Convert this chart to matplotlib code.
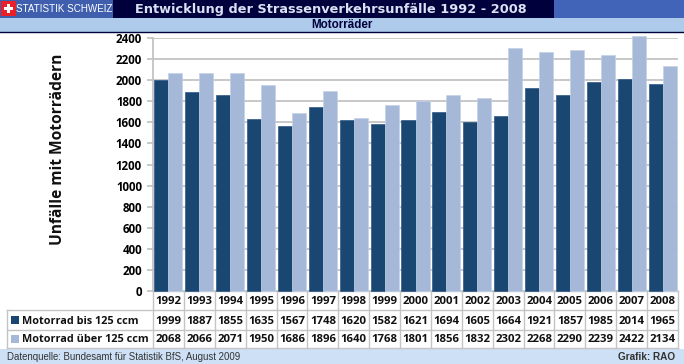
#!/usr/bin/env python3
"""Strassenverkehrsunfaelle 1992-2008: Motorraeder, bars with data table."""

import matplotlib
matplotlib.use('Agg')
import matplotlib.pyplot as plt
import numpy as np
from matplotlib.patches import Rectangle

years = [1992, 1993, 1994, 1995, 1996, 1997, 1998, 1999, 2000,
         2001, 2002, 2003, 2004, 2005, 2006, 2007, 2008]
bis_125 = [1999, 1887, 1855, 1635, 1567, 1748, 1620, 1582, 1621,
           1694, 1605, 1664, 1921, 1857, 1985, 2014, 1965]
ueber_125 = [2068, 2066, 2071, 1950, 1686, 1896, 1640, 1768, 1801,
             1856, 1832, 2302, 2268, 2290, 2239, 2422, 2134]
y_ticks = list(range(0, 2401, 200))

DARK = '#1a4672'
LIGHT = '#a5b8d8'
GRID = '#c4c4c4'
W, H = 684, 364
LEFT, RIGHT = 153, 678
TOP, BASE = 38, 291
BODY = 'Open Sans'

fig = plt.figure(figsize=(W / 100, H / 100), dpi=100)

# pixel-coordinate layer for header, footer and table
bg = fig.add_axes([0, 0, 1, 1])
bg.set_xlim(0, W)
bg.set_ylim(H, 0)
bg.axis('off')


def box(x, y, w, h, color, z=1):
    bg.add_patch(Rectangle((x, y), w, h, facecolor=color, edgecolor='none', zorder=z))


box(0, 0, 113, 18, '#3f5fae')
box(113, 0, 441, 18, '#00003c')
box(554, 0, 130, 18, '#4163b8')
box(0, 18, W, 14, '#aecbeb')
bg.plot([0, W], [32.3, 32.3], color='#00003c', lw=1, zorder=2)
box(0, 349, W, 15, '#cde0f5')

# swiss flag
box(1, 1, 15, 15, '#e8202a', 2)
box(4, 7, 9, 3, 'white', 3)
box(7, 4, 3, 9, 'white', 3)
bg.text(16.5, 9, 'STATISTIK SCHWEIZ', color='white', fontsize=7.1, family='Liberation Sans',
        va='center', ha='left')

bg.text(331, 9.5, 'Entwicklung der Strassenverkehrsunfälle 1992 - 2008', color='#d8e2f2',
        fontsize=9.25, family='DejaVu Sans', weight='bold', va='center', ha='center')
bg.text(342, 25.5, 'Motorräder', color='#00003c', fontsize=8.4, family='Liberation Sans',
        weight='bold', va='center', ha='center')
bg.text(7, 356.5, 'Datenquelle: Bundesamt für Statistik BfS, August 2009', color='#333333',
        fontsize=6.9, family='Liberation Sans', va='center', ha='left')
bg.text(675, 356.5, 'Grafik: RAO', color='#333333', fontsize=7.2, family='Liberation Sans',
        weight='bold', va='center', ha='right')

bg.text(58, 149, 'Unfälle mit Motorrädern', rotation=90, fontsize=11.2, family=BODY,
        weight='bold', va='center', ha='center', color='#111111')

# table
pitch = (RIGHT - LEFT) / len(years)
rows = [291, 310, 330, 348]
for y in rows:
    bg.plot([LEFT if y == rows[0] else 7, RIGHT], [y, y], color=GRID, lw=1, zorder=2)
for i in range(len(years) + 1):
    x = LEFT + i * pitch
    bg.plot([x, x], [rows[0], rows[-1]], color=GRID, lw=1, zorder=2)
bg.plot([7, 7], [rows[1], rows[-1]], color=GRID, lw=1, zorder=2)

for i, row in enumerate(zip(years, bis_125, ueber_125)):
    x = LEFT + (i + 0.5) * pitch
    for val, yc in zip(row, [301.5, 321, 340]):
        bg.text(x, yc, str(val), fontsize=8.2, family=BODY, weight='bold',
                va='center', ha='center', color='#111111')

box(11, 316, 8, 8, DARK, 3)
box(11, 335, 8, 8, LIGHT, 3)
bg.text(22, 321, 'Motorrad bis 125 ccm', fontsize=7.8, family=BODY, weight='bold',
        va='center', ha='left', color='#111111')
bg.text(22, 340, 'Motorrad über 125 ccm', fontsize=7.8, family=BODY, weight='bold',
        va='center', ha='left', color='#111111')

# chart
ax = fig.add_axes([LEFT / W, 1 - BASE / H, (RIGHT - LEFT) / W, (BASE - TOP) / H])
ax.patch.set_alpha(0)
x = np.arange(len(years))
bar_w = 0.455
ax.bar(x - bar_w / 2, bis_125, bar_w, color=DARK, edgecolor='#2f5a85', linewidth=0.5,
       zorder=3, clip_on=False)
ax.bar(x + bar_w / 2, ueber_125, bar_w, color=LIGHT, edgecolor='#c3d1e8', linewidth=0.5,
       zorder=3, clip_on=False)
ax.set_xlim(-0.5, len(years) - 0.5)
ax.set_ylim(0, 2400)
ax.set_yticks(y_ticks)
ax.set_xticks([])
ax.grid(axis='y', color=GRID, lw=1.3, zorder=0)
ax.set_axisbelow(True)
for name in ['top', 'right', 'bottom']:
    ax.spines[name].set_visible(False)
ax.spines['left'].set_color(GRID)
ax.spines['left'].set_linewidth(1.3)
ax.tick_params(axis='y', length=4, width=1.3, color=GRID, pad=4)
for label in ax.get_yticklabels():
    label.set_fontsize(8.3)
    label.set_fontfamily(BODY)
    label.set_fontweight('bold')

fig.savefig('out.png', dpi=100)
